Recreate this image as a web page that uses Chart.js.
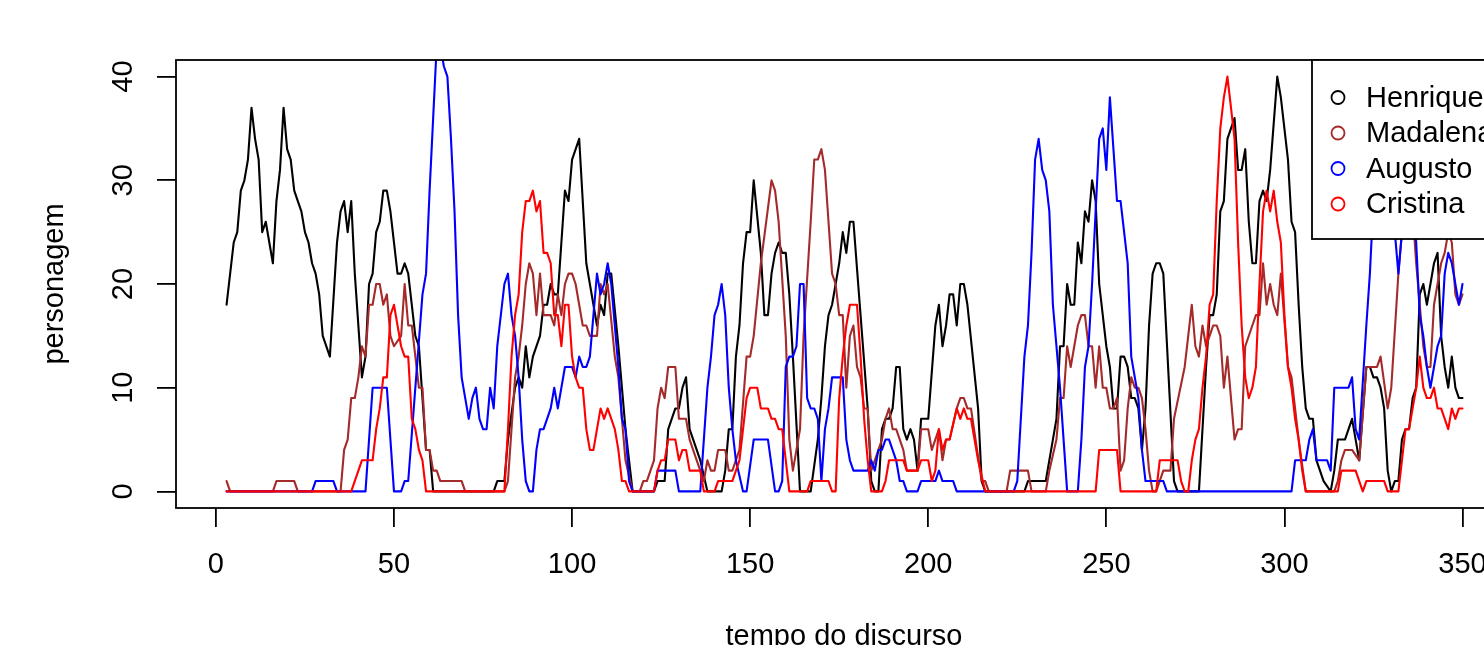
<!DOCTYPE html>
<html>
<head>
<meta charset="utf-8">
<title>personagem</title>
<script src="https://cdn.jsdelivr.net/npm/chart.js@4.4.1/dist/chart.umd.min.js"></script>
<style>
    html, body { margin: 0; padding: 0; background: #fff; overflow: hidden; }
    #wrap { width: 1530px; height: 645px; }
</style>
</head>
<body>
<div id="wrap"><canvas id="chart" width="1530" height="645"></canvas></div>
<script>
// Axis ticks
const xTicks = [0, 50, 100, 150, 200, 250, 300, 350];
const yTicks = [0, 10, 20, 30, 40];

// Series names and colours (legend order)
const names = ['Henrique', 'Madalena', 'Augusto', 'Cristina'];
const colors = ['#000000', '#A52A2A', '#0000FF', '#FF0000'];

// Henrique
const henX = [3,5,6,7,8,9,10,11,12,13,14,16,17,18,19,20,21,22,23,24,25,26,27,28,29,30,32,34,35,36,37,38,39,40,41,42,43,44,45,46,47,48,49,51,52,53,54,56,57,59,60,61,78,79,81,82,84,85,86,87,88,89,91,92,93,94,95,96,98,99,100,102,104,107,108,109,110,111,113,115,116,117,123,124,126,127,129,130,131,132,133,135,136,138,142,143,144,145,146,147,148,149,150,151,153,154,155,156,157,158,159,160,161,162,164,167,169,170,171,172,173,175,176,177,178,179,181,183,184,185,186,187,188,189,190,191,192,193,194,195,196,197,198,200,202,203,204,205,206,207,208,209,210,211,214,215,216,227,228,233,235,236,237,238,239,240,241,242,243,244,245,246,247,248,250,251,252,253,254,255,256,257,258,259,260,261,262,263,264,265,266,269,270,276,277,278,279,280,281,282,283,284,285,286,287,288,289,290,291,292,293,294,295,296,298,299,301,302,303,304,305,306,307,308,309,311,313,314,315,317,319,320,321,323,324,325,326,327,328,329,330,331,332,333,334,335,336,337,338,339,340,341,342,343,344,345,346,347,348,349,350];
const henY = [18,24,25,29,30,32,37,34,32,25,26,22,28,31,37,33,32,29,28,27,25,24,22,21,19,15,13,24,27,28,25,28,21,16,11,13,20,21,25,26,29,29,27,21,21,22,21,15,14,4,4,0,0,1,1,5,10,11,10,14,11,13,15,18,18,20,19,19,29,28,32,34,22,16,18,17,21,21,14,6,3,0,0,1,1,6,8,8,10,11,6,4,3,0,0,2,6,6,13,16,22,25,25,30,23,17,17,21,23,24,23,23,19,13,0,0,5,9,14,17,18,22,25,23,26,26,17,8,1,0,0,6,7,7,8,12,12,6,5,6,5,2,7,7,16,18,14,16,19,19,16,20,20,18,8,1,0,0,1,1,5,7,14,14,20,18,18,24,22,27,26,30,28,20,14,12,8,8,13,13,12,9,9,8,4,8,16,21,22,22,21,1,0,0,6,12,17,17,19,27,28,34,35,36,31,31,33,26,22,22,28,29,28,31,40,38,32,26,25,18,12,8,7,7,3,1,0,2,5,5,7,5,3,12,12,11,11,10,8,2,0,1,1,5,6,6,9,10,19,20,18,20,22,23,15,12,10,13,10,9,9];

// Madalena
const madX = [3,4,16,17,22,23,35,36,37,38,39,40,41,42,43,44,45,46,47,48,49,50,52,53,54,55,57,58,59,60,61,62,63,69,70,81,82,84,85,86,87,88,89,90,91,92,94,95,96,97,98,99,100,101,103,104,105,107,108,109,110,112,113,115,117,119,120,121,123,124,125,126,127,129,130,132,133,135,136,137,138,139,140,141,143,144,145,147,149,150,151,153,156,157,158,160,161,162,163,164,165,167,168,169,170,171,172,173,174,175,176,177,178,179,180,181,182,183,184,185,187,188,189,190,191,193,194,197,198,200,201,203,204,205,206,208,209,210,211,212,215,216,217,222,223,228,229,233,234,236,237,238,239,240,242,243,244,245,246,247,248,249,250,251,252,253,254,255,256,257,258,259,260,261,262,263,264,266,268,269,272,274,275,276,277,278,279,280,281,282,283,284,285,286,287,288,289,291,292,293,294,295,296,297,298,299,301,302,304,306,314,315,316,317,319,321,323,324,326,327,329,330,332,333,334,335,336,337,338,339,340,341,342,343,344,345,346,347,348,349,350];
const madY = [1,0,0,1,1,0,0,4,5,9,9,11,14,13,18,18,20,20,18,19,15,14,15,20,16,16,10,10,4,4,2,2,1,1,0,0,1,11,13,16,20,22,21,17,21,17,17,16,19,17,20,21,21,20,16,16,15,15,20,19,20,13,11,3,0,0,1,1,3,8,10,9,12,12,7,7,5,3,2,1,3,2,2,4,4,2,2,4,13,13,15,22,30,29,26,15,5,2,4,6,15,26,32,32,33,31,26,21,20,17,17,10,15,16,12,11,8,8,2,3,5,7,8,6,6,4,2,2,6,6,4,6,3,5,5,8,9,9,8,8,1,1,0,0,2,2,0,0,2,5,9,9,14,12,16,17,17,14,14,10,14,10,10,8,8,9,2,3,8,11,10,10,9,6,2,0,0,2,2,7,12,18,14,13,16,14,15,16,16,15,10,13,9,5,6,6,14,16,17,17,22,18,20,18,17,21,12,11,5,0,0,1,3,4,4,3,12,12,12,13,8,10,21,25,27,29,27,22,18,14,12,12,18,20,22,23,25,24,19,18,19];

// Augusto
const augX = [3,27,28,33,34,42,44,48,50,52,53,54,56,58,59,60,61,62,63,64,65,66,67,68,69,70,71,72,73,74,75,76,77,78,79,81,82,83,84,85,86,87,88,89,90,91,92,94,95,96,98,100,101,102,103,104,105,106,107,108,109,110,111,113,114,115,116,117,123,124,129,130,136,138,139,140,141,142,143,144,145,146,148,149,151,155,157,158,159,160,161,162,163,164,165,166,167,168,169,170,171,172,173,176,177,178,179,183,184,185,186,187,188,189,191,192,193,194,197,198,202,203,204,207,208,224,225,227,228,229,230,231,232,233,234,235,237,238,239,242,243,244,245,246,247,248,249,250,251,252,253,254,255,256,257,258,259,260,261,266,267,302,303,306,307,308,309,312,313,314,315,318,319,320,321,323,324,325,326,327,328,329,330,331,332,333,334,335,336,337,338,339,340,341,343,344,345,346,347,348,349,350];
const augY = [0,0,1,1,0,0,10,10,0,0,1,1,10,19,21,29,36,43,43,41,40,34,27,17,11,9,7,9,10,7,6,6,10,8,14,20,21,17,15,11,5,1,0,0,4,6,6,8,10,8,12,12,11,13,12,12,13,17,21,19,20,22,20,12,7,6,1,0,0,2,2,0,0,10,13,17,18,20,17,10,6,3,0,0,5,5,0,0,1,12,13,13,14,20,20,9,8,8,7,1,6,8,11,11,5,3,2,2,3,2,4,4,5,5,3,1,1,0,0,1,1,2,1,1,0,0,1,13,16,23,32,34,31,30,27,18,10,5,0,0,5,12,14,20,27,34,35,31,38,33,28,28,25,22,13,11,9,4,1,1,0,0,3,3,5,6,3,3,2,10,10,10,11,6,5,16,21,28,31,33,32,30,28,25,21,25,28,30,28,24,17,15,12,10,14,15,21,23,22,20,18,20];

// Cristina
const criX = [3,38,41,44,45,46,47,48,49,50,51,52,53,54,55,56,57,58,59,81,82,83,84,85,86,87,88,89,90,91,92,93,94,95,96,97,98,99,100,101,102,103,104,105,106,108,109,110,112,113,114,115,116,123,124,125,126,127,129,130,131,132,133,136,137,140,141,145,147,149,150,152,153,155,156,157,158,159,161,166,167,172,173,174,175,176,177,178,180,181,182,183,184,187,188,189,193,194,197,198,200,201,202,203,204,205,206,208,209,210,211,212,214,216,247,248,253,254,264,265,270,271,272,273,274,275,276,277,278,279,280,281,282,283,284,285,286,287,288,289,290,291,292,293,294,295,296,297,298,299,300,301,302,303,304,305,306,315,316,320,322,323,328,329,332,333,334,335,336,337,338,339,340,341,342,343,344,346,347,348,349,350];
const criY = [0,0,3,3,6,8,11,11,17,18,16,14,13,13,7,6,4,3,0,0,6,13,17,19,25,28,28,29,27,28,23,23,22,17,17,14,18,18,13,11,10,10,6,4,4,8,7,8,6,4,1,1,0,0,2,3,3,5,5,3,4,4,2,2,0,0,1,1,3,9,10,10,8,8,7,7,6,6,0,0,1,1,0,0,9,13,16,18,18,13,7,3,0,0,1,3,3,2,2,3,3,1,2,6,4,5,5,8,7,8,7,7,3,0,0,4,4,0,0,3,3,1,0,0,3,5,6,10,13,18,19,28,35,38,40,37,34,24,16,11,9,10,12,20,27,29,27,29,26,24,17,12,10,7,5,2,0,0,2,2,0,1,1,0,0,3,6,6,8,10,13,10,9,9,10,8,8,6,8,7,8,8];

const xs = [henX, madX, augX, criX];
const ys = [henY, madY, augY, criY];

const FAMILY = "'Liberation Sans', Arial, Helvetica, sans-serif";
const FONT = { family: FAMILY, size: 29 };

// Plot box and R-style legend drawn over the lines
const boxLegend = {
    id: 'boxLegend',
    afterDraw(chart) {
        const { ctx, chartArea: a } = chart;
        ctx.save();
        ctx.strokeStyle = '#000';
        ctx.lineWidth = 1.8;
        ctx.strokeRect(a.left, a.top, a.right - a.left, a.bottom - a.top);

        const lx = 1312, lw = 260, lh = 179;
        ctx.fillStyle = '#fff';
        ctx.fillRect(lx, a.top, lw, lh);
        ctx.strokeRect(lx, a.top, lw, lh);

        ctx.font = '29px ' + FAMILY;
        ctx.textBaseline = 'middle';
        ctx.textAlign = 'left';
        chart.data.datasets.forEach((ds, i) => {
            const y = 97.5 + i * 35.5;
            ctx.beginPath();
            ctx.arc(1338, y, 6.5, 0, Math.PI * 2);
            ctx.strokeStyle = ds.borderColor;
            ctx.lineWidth = 1.8;
            ctx.stroke();
            ctx.fillStyle = '#000';
            ctx.fillText(ds.label, 1366, y + 1);
        });
        ctx.restore();
    }
};

const ctx = document.getElementById('chart').getContext('2d');
new Chart(ctx, {
    type: 'line',
    data: {
        datasets: names.map((name, i) => ({
            label: name,
            data: xs[i].map((x, j) => ({ x: x, y: ys[i][j] })),
            borderColor: colors[i],
            backgroundColor: colors[i],
            borderWidth: 2.1,
            borderJoinStyle: 'round',
            borderCapStyle: 'round',
            pointRadius: 0,
            tension: 0,
            fill: false,
            order: names.length - i
        }))
    },
    options: {
        responsive: false,
        animation: false,
        events: [],
        layout: { padding: { top: 60, right: 18, left: 0, bottom: 0 } },
        plugins: {
            legend: { display: false },
            tooltip: { enabled: false }
        },
        scales: {
            x: {
                type: 'linear',
                min: -11.2,
                max: 363.9,
                afterBuildTicks: s => { s.ticks = xTicks.map(v => ({ value: v })); },
                afterFit: s => { s.height = 137; },
                grid: { display: true, drawOnChartArea: false, drawTicks: true, tickLength: 19, color: '#000', lineWidth: 1.8 },
                border: { display: false },
                ticks: { font: FONT, color: '#000', padding: 21, maxRotation: 0, minRotation: 0, autoSkip: false },
                title: { display: true, text: 'tempo do discurso', font: FONT, color: '#000', padding: { top: 0, bottom: -9 } }
            },
            y: {
                type: 'linear',
                min: -1.6,
                max: 41.6,
                afterBuildTicks: s => { s.ticks = yTicks.map(v => ({ value: v })); },
                afterFit: s => { s.width = 176; },
                grid: { display: true, drawOnChartArea: false, drawTicks: true, tickLength: 19, color: '#000', lineWidth: 1.8 },
                border: { display: false },
                ticks: { font: FONT, color: '#000', padding: 17, minRotation: 90, maxRotation: 90, crossAlign: 'center', autoSkip: false },
                title: { display: true, text: 'personagem', font: FONT, color: '#000', padding: { top: 38, bottom: 0 } }
            }
        }
    },
    plugins: [boxLegend]
});
</script>
</body>
</html>
